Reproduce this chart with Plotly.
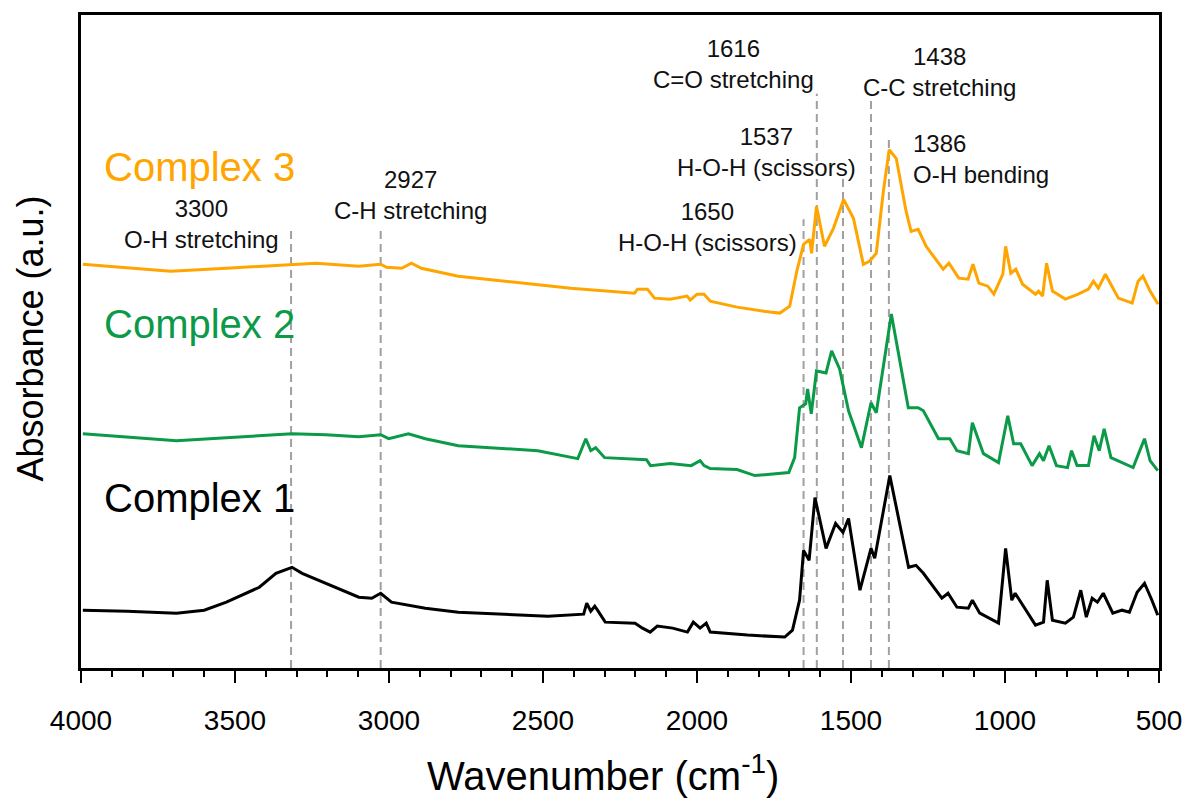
import plotly.graph_objects as go

# ---- data ----
c1_wn = [3994, 3850, 3690, 3600, 3528, 3421, 3367, 3315, 3282, 3205, 3098, 3056, 3027, 2992, 2882, 2775, 2646, 2484,
         2368, 2358, 2345, 2332, 2323, 2298, 2201, 2177, 2152, 2129, 2079, 2031, 2012, 1990, 1970, 1957,
         1836, 1715, 1690, 1667, 1654, 1636, 1617, 1581, 1550, 1526, 1508, 1471, 1435, 1423, 1374, 1313,
         1289, 1265, 1205, 1185, 1156, 1119, 1106, 1082, 1021, 998, 978, 967, 901, 875, 863, 846, 804,
         778, 754, 736, 717, 700, 681, 650, 620, 596, 571, 547, 523, 504]
c1_abs = [0.58, 0.57, 0.55, 0.58, 0.66, 0.81, 0.95, 1.01, 0.95, 0.85, 0.71, 0.70, 0.75, 0.66, 0.60, 0.56, 0.54, 0.52,
          0.54, 0.65, 0.57, 0.62, 0.58, 0.46, 0.45, 0.40, 0.36, 0.42, 0.40, 0.36, 0.46, 0.40, 0.45, 0.36,
          0.33, 0.31, 0.38, 0.68, 1.18, 1.08, 1.71, 1.20, 1.45, 1.36, 1.50, 0.78, 1.20, 1.10, 1.93, 1.01,
          1.03, 0.95, 0.70, 0.75, 0.61, 0.60, 0.68, 0.55, 0.45, 1.20, 0.68, 0.75, 0.43, 0.46, 0.88, 0.48, 0.45,
          0.51, 0.78, 0.51, 0.70, 0.66, 0.75, 0.55, 0.58, 0.56, 0.76, 0.85, 0.68, 0.53]

c2_wn = [3994, 3690, 3528, 3315, 3205, 3098, 3027, 3001, 2937, 2882, 2775, 2517, 2387, 2361, 2345, 2329,
         2300, 2216, 2164, 2151, 2087, 2019, 1990, 1977, 1957, 1870, 1812, 1702, 1683, 1667, 1647, 1641,
         1629, 1612, 1581, 1563, 1537, 1508, 1466, 1435, 1418, 1369, 1314, 1282, 1265, 1216, 1179, 1156,
         1119, 1106, 1070, 1021, 991, 972, 949, 912, 888, 875, 857, 833, 797, 784, 766, 729, 711, 694,
         678, 656, 584, 565, 547, 529, 504]
c2_abs = [2.35, 2.28, 2.31, 2.35, 2.34, 2.32, 2.34, 2.30, 2.35, 2.30, 2.23, 2.18, 2.10, 2.30, 2.18, 2.21,
          2.11, 2.10, 2.09, 2.03, 2.05, 2.03, 2.08, 2.03, 2.00, 1.99, 1.93, 1.96, 2.11, 2.61, 2.65, 2.80,
          2.55, 2.98, 2.96, 3.18, 3.00, 2.58, 2.21, 2.66, 2.56, 3.55, 2.61, 2.61, 2.58, 2.30, 2.30, 2.18,
          2.15, 2.46, 2.15, 2.06, 2.53, 2.25, 2.25, 2.03, 2.15, 2.08, 2.23, 2.03, 2.01, 2.18, 2.03, 2.03, 2.33, 2.18,
          2.40, 2.11, 2.01, 2.16, 2.30, 2.08, 1.98]

c3_wn = [3994, 3709, 3528, 3315, 3237, 3098, 3027, 3008, 2959, 2927, 2895, 2775, 2668, 2623, 2410, 2203,
         2193, 2161, 2138, 2087, 2032, 2022, 2000, 1977, 1957, 1870, 1764, 1731, 1699, 1676, 1654, 1634,
         1628, 1612, 1586, 1557, 1524, 1492, 1460, 1440, 1418, 1395, 1376, 1353, 1321, 1305, 1282, 1256,
         1201, 1182, 1150, 1120, 1104, 1085, 1056, 1036, 1007, 998, 981, 965, 943, 901, 891, 878, 865,
         846, 804, 762, 729, 713, 697, 674, 632, 587, 568, 552, 529, 503]
c3_abs = [4.05, 3.98, 4.01, 4.05, 4.06, 4.03, 4.05, 4.02, 4.01, 4.06, 4.01, 3.93, 3.89, 3.88, 3.81, 3.76,
          3.80, 3.80, 3.71, 3.70, 3.73, 3.69, 3.75, 3.75, 3.68, 3.62, 3.57, 3.56, 3.63, 3.98, 4.25, 4.30,
          4.16, 4.63, 4.23, 4.41, 4.70, 4.51, 4.05, 4.08, 4.16, 4.78, 5.20, 5.11, 4.58, 4.38, 4.40, 4.23,
          4.00, 4.06, 3.91, 3.90, 4.05, 3.86, 3.83, 3.75, 3.95, 4.23, 3.96, 4.00, 3.85, 3.75, 3.78, 3.73, 4.06,
          3.78, 3.70, 3.75, 3.80, 3.88, 3.81, 3.95, 3.71, 3.66, 3.88, 3.93, 3.78, 3.65]

series_names = ["Complex 1", "Complex 2", "Complex 3"]
series_colors = ["#000000", "#0A9A48", "#FFA500"]

# marker lines (positions as drawn) and the tops of the dashed lines
mark_wn = [3318, 3027, 1654, 1611, 1526, 1435, 1377]
mark_top = [4.40, 4.40, 4.50, 5.76, 4.95, 5.75, 5.31]

# annotations: text, position, anchor
ann_text = ["3300<br>O-H stretching", "2927<br>C-H stretching", "1616<br>C=O stretching",
            "1537<br>H-O-H (scissors)", "1650<br>H-O-H (scissors)", "1438<br>C-C stretching",
            "1386<br>O-H bending"]
ann_x = [3609, 2930, 1883, 1773, 1967, 1214, 1305]
ann_y = [4.45, 4.74, 6.06, 5.18, 4.42, 5.98, 5.11]
ann_anchor = ["center", "center", "center", "center", "center", "center", "left"]

label_x = 3615
label_y = [1.71, 3.45, 5.03]

FONT = "Liberation Sans, Arial, sans-serif"

fig = go.Figure()

# dashed marker lines
dx, dy = [], []
for w, t in zip(mark_wn, mark_top):
    dx += [w, w, None]
    dy += [0, t, None]
fig.add_trace(go.Scatter(x=dx, y=dy, mode="lines", hoverinfo="skip", showlegend=False,
                         line=dict(color="#A0A0A0", width=2, dash="8px,5px")))

for wn, ab, name, col in zip([c1_wn, c2_wn, c3_wn], [c1_abs, c2_abs, c3_abs], series_names, series_colors):
    fig.add_trace(go.Scatter(x=wn, y=ab, mode="lines", name=name, showlegend=False,
                             line=dict(color=col, width=3)))

for t, x, y, a in zip(ann_text, ann_x, ann_y, ann_anchor):
    fig.add_annotation(x=x, y=y, text=t, showarrow=False, xanchor=a, yanchor="middle", align=a,
                       font=dict(family=FONT, size=24, color="#111111"))

for name, col, y in zip(series_names, series_colors, label_y):
    fig.add_annotation(x=label_x, y=y, text=name, showarrow=False, xanchor="center", yanchor="middle",
                       font=dict(family=FONT, size=40, color=col))

# axis titles
fig.add_annotation(xref="paper", yref="paper", x=0.484, y=-0.1615, text="Wavenumber (cm<sup>-1</sup>)",
                   showarrow=False, xanchor="center", yanchor="middle",
                   font=dict(family=FONT, size=40, color="#000000"))
fig.add_annotation(xref="paper", yref="paper", x=-0.047, y=0.505, text="Absorbance (a.u.)",
                   showarrow=False, textangle=-90, xanchor="center", yanchor="middle",
                   font=dict(family=FONT, size=36, color="#000000"))

fig.update_layout(
    width=1194, height=801,
    margin=dict(l=81, r=30, t=13, b=133),
    paper_bgcolor="white", plot_bgcolor="white",
    font=dict(family=FONT, color="#000000"),
)
fig.update_xaxes(range=[4000, 500], tickmode="linear", tick0=500, dtick=500,
                 ticks="outside", ticklen=12, tickwidth=2, tickcolor="#000000",
                 minor=dict(ticks="outside", ticklen=6, tickwidth=2, tickcolor="#000000", dtick=100),
                 showline=True, linewidth=3, linecolor="#000000", mirror=True,
                 showgrid=False, zeroline=False,
                 tickfont=dict(family=FONT, size=28, color="#000000"), ticklabelstandoff=13)
fig.update_yaxes(range=[0, 6.55], showticklabels=False, ticks="",
                 showline=True, linewidth=3, linecolor="#000000", mirror=True,
                 showgrid=False, zeroline=False)

fig.write_html("out.html")
